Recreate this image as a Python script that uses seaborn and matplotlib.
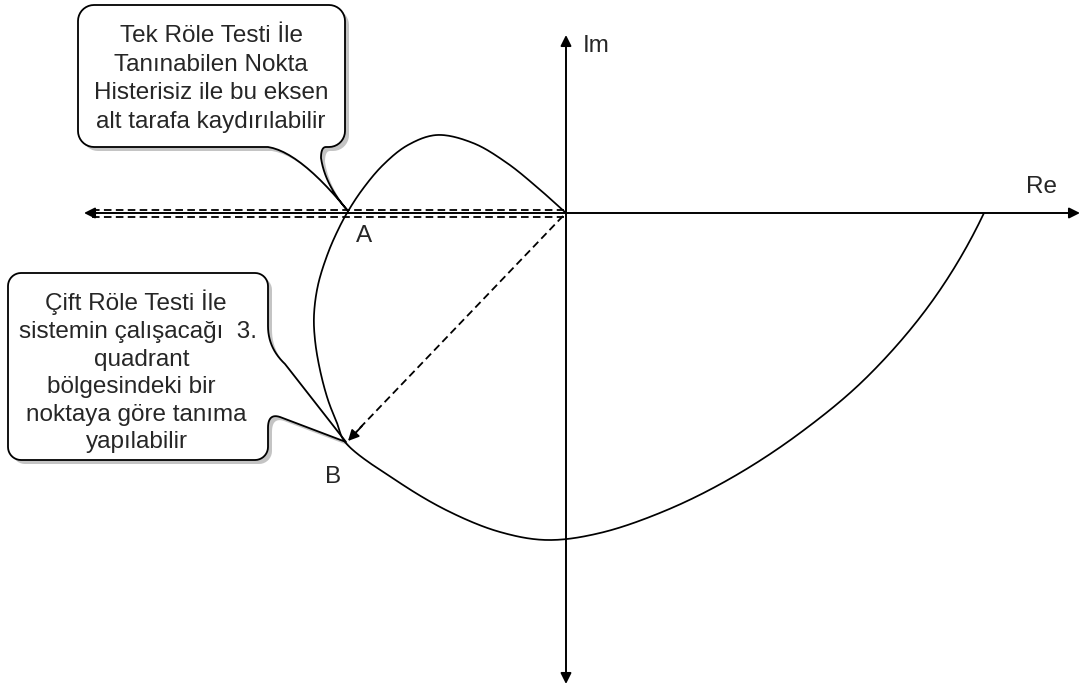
import numpy as np
import pandas as pd
import matplotlib
matplotlib.use("Agg")
import matplotlib.pyplot as plt
from matplotlib.patches import Polygon
import seaborn as sns

# ---------------- data (origin = Re/Im axes crossing) ----------------
# Nyquist-like curve, from the positive real axis crossing round to the origin
curve_re = [418, 367, 301, 234, 167, 101, 34, -19, -66, -116, -166, -221,
            -229, -238, -246, -251, -252, -248, -238, -228, -219,
            -204, -183, -158, -129, -93, -59, -28, 0]
curve_im = [0, -87, -164, -220, -264, -297, -320, -327, -319, -299, -270, -229,
            -210, -187, -157, -127, -102, -72, -40, -17, 0,
            23, 48, 68, 78, 70, 50, 25, 0]
axis_labels = ["Re", "Im"]
point_labels = ["A", "B"]
callout1_lines = ["Tek Röle Testi İle", "Tanınabilen Nokta", "Histerisiz ile bu eksen",
                  "alt tarafa kaydırılabilir"]
callout2_lines = ["Çift Röle Testi İle", "sistemin çalışacağı  3.", "quadrant",
                  "bölgesindeki bir", "noktaya göre tanıma", "yapılabilir"]

# ---------------- style ----------------
sns.set_theme(style="white")
plt.rcParams["font.family"] = ["Liberation Sans", "DejaVu Sans"]

W, H = 1086, 689
OX, OY = 566, 213  # pixel position of the origin


def P(px, py):
    return (px - OX, OY - py)


def quad(p0, c, p1, n=14):
    t = np.linspace(0, 1, n)[:, None]
    p0, c, p1 = map(np.array, (p0, c, p1))
    return list(map(tuple, (1 - t) ** 2 * p0 + 2 * (1 - t) * t * c + t ** 2 * p1))


def arc(cx, cy, r, a0, a1, n=10):
    a = np.radians(np.linspace(a0, a1, n))
    return [(cx + r * np.cos(v), cy + r * np.sin(v)) for v in a]


def smooth_path(xs, ys, n=24, alpha=0.5):
    """Centripetal Catmull-Rom rendering of a curved connector through the read points."""
    pts = np.column_stack([xs, ys]).astype(float)
    first = 3 * pts[0] - 3 * pts[1] + pts[2]
    last = 2 * pts[-1] - pts[-2]
    ext = np.vstack([first, pts, last])
    out = []
    for i in range(1, len(ext) - 2):
        p0, p1, p2, p3 = ext[i - 1], ext[i], ext[i + 1], ext[i + 2]
        t0 = 0.0
        t1 = t0 + np.linalg.norm(p1 - p0) ** alpha
        t2 = t1 + np.linalg.norm(p2 - p1) ** alpha
        t3 = t2 + np.linalg.norm(p3 - p2) ** alpha
        t = np.linspace(t1, t2, n, endpoint=False)[:, None]
        a1 = (t1 - t) / (t1 - t0) * p0 + (t - t0) / (t1 - t0) * p1
        a2 = (t2 - t) / (t2 - t1) * p1 + (t - t1) / (t2 - t1) * p2
        a3 = (t3 - t) / (t3 - t2) * p2 + (t - t2) / (t3 - t2) * p3
        b1 = (t2 - t) / (t2 - t0) * a1 + (t - t0) / (t2 - t0) * a2
        b2 = (t3 - t) / (t3 - t1) * a2 + (t - t1) / (t3 - t1) * a3
        out.append((t2 - t) / (t2 - t1) * b1 + (t - t1) / (t2 - t1) * b2)
    out.append(pts[-1:])
    return np.vstack(out)


def callout1():
    x0, y0, x1, y1, r = 78, 5, 345, 147, 16
    pts = [(x0 + r, y0)]
    pts += arc(x1 - r, y0 + r, r, -90, 0)
    pts += arc(x1 - r, y1 - r, r, 0, 90)
    pts += quad((326, y1), (321, y1), (321, 158))
    pts += quad((321, 158), (325, 185), (348, 211))
    pts += quad((348, 211), (300, 152), (268, y1))
    pts += arc(x0 + r, y1 - r, r, 90, 180)
    pts += arc(x0 + r, y0 + r, r, 180, 270)
    return pts


def callout2():
    x0, y0, x1, y1, r = 8, 273, 268, 460, 13
    pts = [(x0 + r, y0)]
    pts += arc(x1 - r, y0 + r, r, -90, 0)
    pts += quad((x1, 326), (x1, 348), (285, 364))
    pts += [(346, 442)]
    pts += quad((280, 417), (x1, 413), (x1, 428))
    pts += arc(x1 - r, y1 - r, r, 0, 90)
    pts += arc(x0 + r, y1 - r, r, 90, 180)
    pts += arc(x0 + r, y0 + r, r, 180, 270)
    return pts


fig = plt.figure(figsize=(W / 100, H / 100), dpi=100)
ax = fig.add_axes([0, 0, 1, 1])

# callout balloons (shadow + white body)
for shape in (callout1(), callout2()):
    sh = [P(x + 4, y + 4) for x, y in shape]
    ax.add_patch(Polygon(sh, closed=True, facecolor="#c4c4c4", edgecolor="none", zorder=1))
    body = [P(x, y) for x, y in shape]
    ax.add_patch(Polygon(body, closed=True, facecolor="white", edgecolor="black",
                         lw=1.3, joinstyle="round", zorder=2))

# axes arrows
ax.annotate("", xy=P(1080, 213), xytext=P(84, 213),
            arrowprops=dict(arrowstyle="<|-|>", color="black", lw=1.4,
                            mutation_scale=16, shrinkA=0, shrinkB=0), zorder=4)
ax.annotate("", xy=P(566, 35), xytext=P(566, 684),
            arrowprops=dict(arrowstyle="<|-|>", color="black", lw=1.4,
                            mutation_scale=16, shrinkA=0, shrinkB=0), zorder=4)

# dashed double line from origin to the left
for yy in (209.5, 216.8):
    a, b = P(92, yy), P(564, yy)
    ax.plot([a[0], b[0]], [a[1], b[1]], color="black", lw=1.3,
            linestyle=(0, (4.2, 2.4)), zorder=3)

# dashed arrow from origin to B
s, e = P(563, 216), P(356, 432)
ax.plot([s[0], e[0]], [s[1], e[1]], color="black", lw=1.3,
        linestyle=(0, (4.2, 2.4)), zorder=3)
ax.annotate("", xy=P(348, 441), xytext=P(362, 426),
            arrowprops=dict(arrowstyle="-|>", color="black", lw=1.3,
                            mutation_scale=16, shrinkA=0, shrinkB=0), zorder=4)

# the curve (curved connector through the read points)
sm = smooth_path(curve_re, curve_im)
df = pd.DataFrame({"Re": sm[:, 0], "Im": sm[:, 1]})
sns.lineplot(data=df, x="Re", y="Im", sort=False, estimator=None, color="black",
             lw=1.25, ax=ax, zorder=5, legend=False)
ax.set_xlim(-OX, W - OX)
ax.set_ylim(OY - H, OY)
ax.set_axis_off()

FS = 17.5
# axis and point labels
ax.text(*P(583, 46), axis_labels[1], fontsize=FS, ha="left", va="center", zorder=6)
ax.text(*P(1042, 187), axis_labels[0], fontsize=FS, ha="center", va="center", zorder=6)
ax.text(*P(364, 236), point_labels[0], fontsize=FS, ha="center", va="center", zorder=6)
ax.text(*P(333, 477), point_labels[1], fontsize=FS, ha="center", va="center", zorder=6)

# callout texts
for line, by in zip(callout1_lines, [42, 71, 99, 128]):
    ax.text(*P(211, by), line, fontsize=FS, ha="center", va="baseline", zorder=6)
cx2 = [136, 138, 142, 131, 136, 137]
for line, x, by in zip(callout2_lines, cx2, [310, 338, 366, 393, 421, 448]):
    ax.text(*P(x, by), line, fontsize=FS, ha="center", va="baseline", zorder=6)

fig.savefig("out.png", dpi=100, facecolor="white")
